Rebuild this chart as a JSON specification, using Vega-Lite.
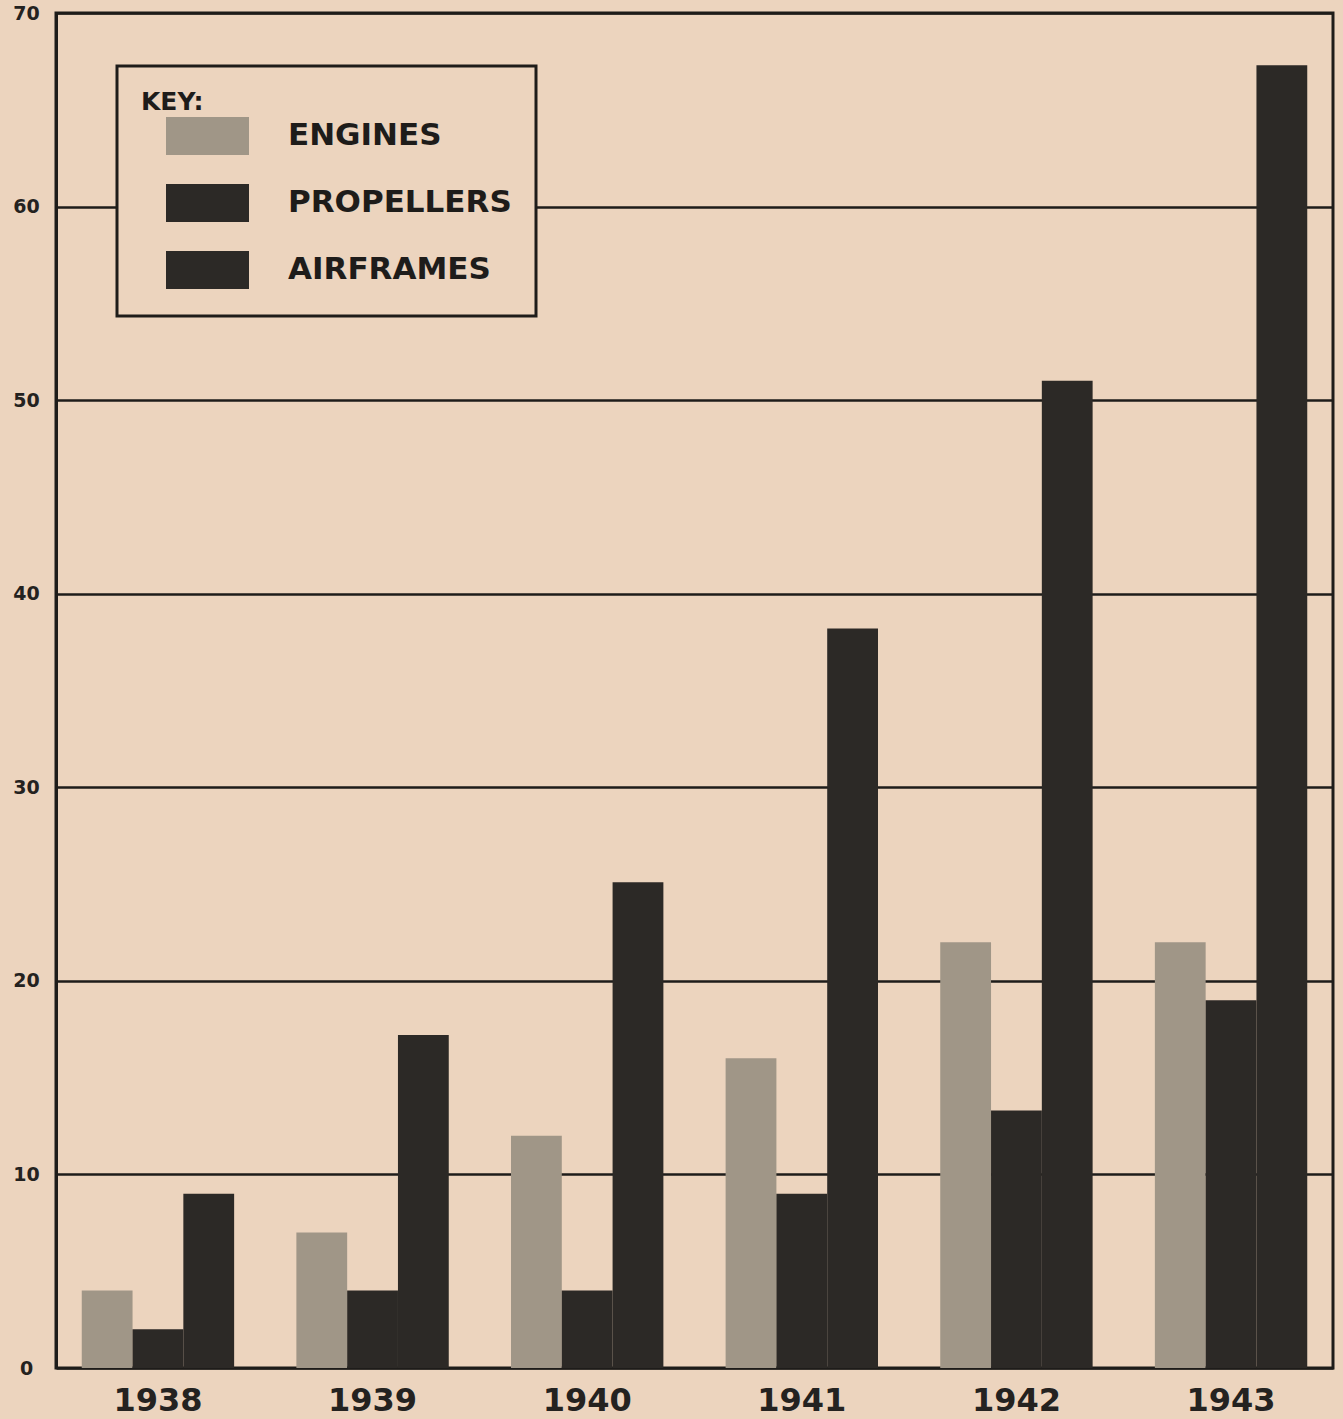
{
  "$schema": "https://vega.github.io/schema/vega-lite/v6.json",
  "width": 1277,
  "height": 1355,
  "autosize": {"type": "none"},
  "padding": {"left": 56, "top": 13, "right": 10, "bottom": 51},
  "background": "#ECD4BE",
  "config": {
    "view": {"stroke": "#1e1c1a", "strokeWidth": 3, "fill": "#ECD4BE"},
    "font": "DejaVu Sans",
    "legend": {"strokeWidth": 3}
  },
  "data": {
    "values": [
      {"year": "1938", "series": "ENGINES", "value": 4},
      {"year": "1938", "series": "PROPELLERS", "value": 2},
      {"year": "1938", "series": "AIRFRAMES", "value": 9},
      {"year": "1939", "series": "ENGINES", "value": 7},
      {"year": "1939", "series": "PROPELLERS", "value": 4},
      {"year": "1939", "series": "AIRFRAMES", "value": 17.2},
      {"year": "1940", "series": "ENGINES", "value": 12},
      {"year": "1940", "series": "PROPELLERS", "value": 4},
      {"year": "1940", "series": "AIRFRAMES", "value": 25.1},
      {"year": "1941", "series": "ENGINES", "value": 16},
      {"year": "1941", "series": "PROPELLERS", "value": 9},
      {"year": "1941", "series": "AIRFRAMES", "value": 38.2},
      {"year": "1942", "series": "ENGINES", "value": 22},
      {"year": "1942", "series": "PROPELLERS", "value": 13.3},
      {"year": "1942", "series": "AIRFRAMES", "value": 51},
      {"year": "1943", "series": "ENGINES", "value": 22},
      {"year": "1943", "series": "PROPELLERS", "value": 19},
      {"year": "1943", "series": "AIRFRAMES", "value": 67.3}
    ]
  },
  "mark": {"type": "bar", "opacity": 1},
  "encoding": {
    "x": {
      "field": "year",
      "type": "nominal",
      "scale": {"paddingInner": 0.29, "paddingOuter": 0.12},
      "axis": {
        "title": null,
        "labelAngle": 0,
        "ticks": false,
        "domain": false,
        "labelFont": "DejaVu Sans",
        "labelFontWeight": "bold",
        "labelFontSize": 32,
        "labelColor": "#242220",
        "labelPadding": 17
      }
    },
    "xOffset": {
      "field": "series",
      "type": "nominal",
      "sort": ["ENGINES", "PROPELLERS", "AIRFRAMES"],
      "scale": {"paddingInner": 0, "paddingOuter": 0}
    },
    "y": {
      "field": "value",
      "type": "quantitative",
      "scale": {"domain": [0, 70], "nice": false},
      "axis": {
        "title": null,
        "values": [0, 10, 20, 30, 40, 50, 60, 70],
        "ticks": false,
        "domain": true,
        "domainColor": "#1e1c1a",
        "domainWidth": 3,
        "grid": true,
        "gridColor": "#1e1c1a",
        "gridWidth": 2.5,
        "gridOpacity": 1,
        "labelFont": "DejaVu Sans",
        "labelFontWeight": "bold",
        "labelFontSize": 19,
        "labelColor": "#242220",
        "labelAlign": "center",
        "labelPadding": 30
      }
    },
    "color": {
      "field": "series",
      "type": "nominal",
      "sort": ["ENGINES", "PROPELLERS", "AIRFRAMES"],
      "scale": {
        "domain": ["ENGINES", "PROPELLERS", "AIRFRAMES"],
        "range": ["#A09687", "#2C2926", "#2C2926"]
      },
      "legend": {
        "title": "KEY:",
        "orient": "none",
        "legendX": 61,
        "legendY": 53,
        "strokeColor": "#1e1c1a",
        "fillColor": "#ECD4BE",
        "padding": 24,
        "symbolType": "M-1,-0.46H1V0.46H-1Z",
        "symbolSize": 6889,
        "symbolStrokeWidth": 0,
        "symbolOpacity": 1,
        "symbolOffset": 25,
        "clipHeight": 44,
        "rowPadding": 23,
        "labelOffset": 39,
        "labelFont": "DejaVu Sans",
        "labelFontWeight": "bold",
        "labelFontSize": 31,
        "labelColor": "#1e1c1a",
        "labelLimit": 400,
        "titleFont": "DejaVu Sans",
        "titleFontWeight": "bold",
        "titleFontSize": 25,
        "titleColor": "#1e1c1a",
        "titlePadding": -1
      }
    }
  }
}
